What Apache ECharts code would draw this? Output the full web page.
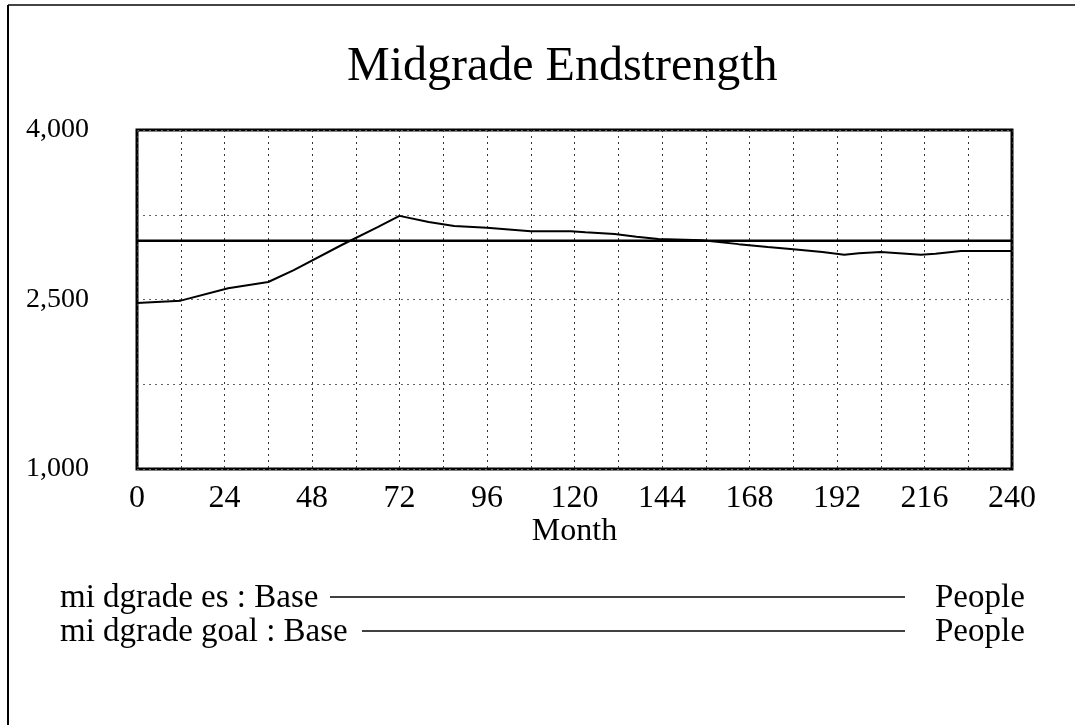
<!DOCTYPE html>
<html lang="en">
<head>
    <meta charset="UTF-8">
    <script src="https://cdn.jsdelivr.net/npm/echarts@6/dist/echarts.min.js"></script>
    <title>Midgrade Endstrength</title>
    <style>
        html, body{
            margin: 0;
            padding: 0;
            background: #fff;
        }
        #chart{
            width: 1075px;
            height: 725px;
        }
    </style>
</head>
<body>
    <div id="chart"></div>
    <script>
        // data
        const esMonths = [0, 12, 25, 36, 43, 56, 66, 72, 80, 87, 96, 108, 119, 123, 131, 137, 143, 155, 165, 173, 180, 188, 194, 198, 204, 209, 215, 219, 226, 240]
        const esValues = [2470, 2490, 2600, 2655, 2760, 2980, 3140, 3240, 3185, 3150, 3135, 3105, 3105, 3095, 3080, 3055, 3035, 3025, 2990, 2965, 2945, 2920, 2895, 2910, 2920, 2910, 2895, 2905, 2930, 2930]
        const goalMonths = [0, 240]
        const goalValues = [3020, 3020]
        const yLabels = [1000, 2500, 4000]
        const xLabelStep = 24

        const font = 'Liberation Serif'

        let myChart = echarts.init(document.getElementById('chart'))
        let option = {
            backgroundColor: '#fff',
            animation: false,
            title: {
                text: 'Midgrade Endstrength',
                left: 342,
                top: 38,
                textStyle: { fontFamily: font, fontSize: 48, fontWeight: 'normal', color: '#000' }
            },
            grid: {
                left: 137, right: 63, top: 130, bottom: 256,
                show: true,
                borderColor: '#000',
                borderWidth: 3
            },
            xAxis: {
                type: 'value',
                min: 0, max: 240, interval: 12,
                name: 'Month',
                nameLocation: 'middle',
                nameGap: 40,
                nameTextStyle: { fontFamily: font, fontSize: 32, color: '#000' },
                axisLine: { show: false },
                axisTick: { show: false },
                axisLabel: {
                    margin: 14,
                    fontFamily: font, fontSize: 32, color: '#000',
                    formatter: v => (v % xLabelStep === 0 ? String(v) : '')
                },
                splitLine: { lineStyle: { type: [2, 4], color: '#333', width: 1 } }
            },
            yAxis: {
                type: 'value',
                min: 1000, max: 4000, interval: 750,
                axisLine: { show: false },
                axisTick: { show: false },
                axisLabel: {
                    margin: 48,
                    align: 'right',
                    fontFamily: font, fontSize: 28, color: '#000',
                    formatter: v => (yLabels.includes(v) ? v.toLocaleString('en-US') : '')
                },
                splitLine: { lineStyle: { type: [2, 4], color: '#666', width: 1 } }
            },
            series: [
                {
                    name: 'midgrade es',
                    type: 'line',
                    data: esMonths.map((m, i) => [m, esValues[i]]),
                    symbol: 'none',
                    lineStyle: { color: '#000', width: 2 }
                },
                {
                    name: 'midgrade goal',
                    type: 'line',
                    data: goalMonths.map((m, i) => [m, goalValues[i]]),
                    symbol: 'none',
                    lineStyle: { color: '#000', width: 2.5 }
                }
            ],
            // legend rows and outer frame, drawn like the original report
            graphic: [
                { type: 'line', shape: { x1: 8, y1: 5, x2: 1075, y2: 5 }, style: { stroke: '#444', lineWidth: 2 } },
                { type: 'line', shape: { x1: 8, y1: 5, x2: 8, y2: 725 }, style: { stroke: '#000', lineWidth: 2 } },
                { type: 'text', x: 60, y: 598, style: { text: 'mi dgrade es : Base', font: '33px "Liberation Serif"', fill: '#000', verticalAlign: 'middle' } },
                { type: 'line', shape: { x1: 330, y1: 597, x2: 905, y2: 597 }, style: { stroke: '#000', lineWidth: 1.5 } },
                { type: 'text', x: 935, y: 598, style: { text: 'People', font: '33px "Liberation Serif"', fill: '#000', verticalAlign: 'middle' } },
                { type: 'text', x: 60, y: 632, style: { text: 'mi dgrade goal : Base', font: '33px "Liberation Serif"', fill: '#000', verticalAlign: 'middle' } },
                { type: 'line', shape: { x1: 362, y1: 631, x2: 905, y2: 631 }, style: { stroke: '#000', lineWidth: 1.5 } },
                { type: 'text', x: 935, y: 632, style: { text: 'People', font: '33px "Liberation Serif"', fill: '#000', verticalAlign: 'middle' } }
            ]
        }
        myChart.setOption(option)
    </script>
</body>
</html>
